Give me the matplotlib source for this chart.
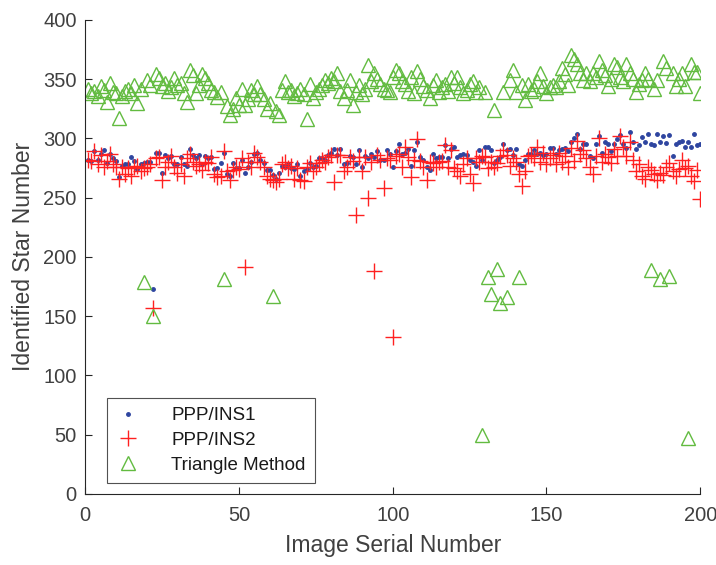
import numpy as np
import matplotlib
matplotlib.use("Agg")
import matplotlib.pyplot as plt

plt.rcParams['font.family'] = ['Liberation Sans', 'DejaVu Sans']

# image index 1..200
img = np.arange(1, 201)

ins1 = [282, 281, 289, 282, 287, 290, 279, 287, 283, 281,
        267, 277, 278, 278, 284, 281, 274, 278, 279, 280,
        280, 173, 288, 288, 271, 286, 283, 285, 278, 278,
        284, 278, 277, 291, 286, 283, 286, 278, 285, 283,
        284, 274, 275, 279, 288, 270, 268, 279, 275, 275,
        282, 271, 276, 280, 287, 288, 282, 279, 273, 273,
        269, 266, 271, 277, 276, 278, 275, 274, 278, 268,
        272, 274, 279, 276, 277, 283, 283, 282, 286, 288,
        291, 286, 291, 278, 279, 285, 284, 278, 290, 276,
        285, 283, 287, 284, 289, 282, 282, 290, 287, 276,
        289, 295, 287, 288, 291, 277, 290, 297, 284, 282,
        276, 273, 287, 283, 284, 284, 294, 283, 291, 293,
        284, 286, 287, 286, 282, 280, 277, 290, 282, 293,
        293, 290, 279, 282, 284, 295, 290, 291, 286, 291,
        278, 277, 282, 287, 287, 290, 287, 288, 286, 287,
        292, 292, 287, 290, 291, 292, 289, 297, 300, 304,
        291, 295, 295, 285, 283, 295, 302, 288, 297, 295,
        289, 295, 299, 303, 295, 292, 305, 297, 291, 294,
        301, 297, 304, 295, 294, 304, 297, 302, 296, 303,
        285, 295, 297, 298, 293, 297, 293, 304, 294, 295]

ins2 = [282, 281, 289, 278, 286, 276, 281, 287, 278, 276,
        266, 276, 270, 275, 268, 276, 277, 272, 275, 276,
        278, 157, 283, 284, 265, 276, 280, 285, 276, 271,
        278, 268, 283, 287, 280, 277, 278, 273, 280, 279,
        284, 270, 267, 268, 289, 272, 265, 273, 276, 274,
        283, 191, 280, 276, 288, 284, 280, 276, 268, 266,
        265, 263, 266, 278, 280, 275, 277, 266, 275, 265,
        264, 276, 279, 272, 276, 279, 282, 280, 284, 286,
        263, 286, 286, 272, 276, 284, 281, 235, 284, 272,
        284, 250, 280, 188, 286, 282, 258, 283, 282, 132,
        285, 287, 276, 293, 284, 267, 282, 299, 281, 276,
        265, 280, 279, 276, 280, 281, 294, 276, 290, 275,
        272, 268, 278, 283, 270, 262, 283, 280, 285, 284,
        275, 280, 276, 279, 285, 290, 286, 277, 283, 280,
        270, 260, 272, 285, 286, 283, 293, 280, 288, 278,
        283, 286, 278, 288, 280, 285, 276, 292, 281, 298,
        287, 290, 283, 276, 270, 285, 300, 280, 287, 284,
        279, 291, 285, 302, 293, 285, 297, 282, 272, 278,
        268, 266, 276, 273, 270, 265, 271, 269, 276, 279,
        272, 268, 274, 282, 275, 277, 268, 264, 273, 249]

tri = [342, 338, 340, 336, 344, 341, 331, 347, 339, 338,
       317, 336, 340, 342, 338, 345, 330, 342, 179, 349,
       345, 150, 354, 351, 344, 347, 340, 343, 351, 345,
       347, 338, 331, 358, 353, 338, 345, 354, 351, 347,
       341, 339, 335, 339, 181, 327, 320, 325, 334, 328,
       342, 328, 333, 341, 337, 344, 337, 333, 325, 330,
       167, 323, 320, 341, 348, 339, 341, 336, 338, 342,
       337, 316, 346, 334, 339, 342, 345, 349, 347, 351,
       348, 355, 340, 334, 341, 349, 328, 339, 345, 337,
       342, 362, 348, 355, 350, 346, 342, 341, 339, 352,
       358, 355, 348, 346, 340, 352, 338, 357, 350, 344,
       341, 334, 345, 349, 339, 343, 346, 340, 352, 347,
       352, 343, 338, 341, 346, 348, 339, 343, 50, 339,
       183, 169, 324, 190, 161, 339, 166, 349, 358, 339,
       183, 345, 332, 346, 340, 342, 348, 355, 344, 338,
       343, 345, 343, 348, 359, 354, 345, 370, 367, 363,
       355, 349, 355, 348, 355, 352, 365, 358, 353, 344,
       350, 363, 360, 352, 348, 363, 355, 350, 339, 346,
       349, 355, 350, 189, 342, 349, 181, 365, 359, 184,
       355, 344, 350, 355, 344, 47, 363, 356, 356, 338]

txt = '#404040'

fig = plt.figure(figsize=(7.16, 5.65), dpi=100)
ax = fig.add_axes([0.119, 0.126, 0.859, 0.839])

ax.plot(img, ins1, '.', color='#2e45a0', markersize=5, label='PPP/INS1')
ax.plot(img, ins2, '+', color='#ff2020', markersize=11, markeredgewidth=1.0,
        label='PPP/INS2')
ax.plot(img, tri, '^', color='#62bb40', markerfacecolor='none',
        markersize=10.5, markeredgewidth=1.0, label='Triangle Method')

ax.set_xlim(0, 200)
ax.set_ylim(0, 400)
ax.set_xticks([0, 50, 100, 150, 200])
ax.set_yticks(np.arange(0, 401, 50))
ax.spines['top'].set_visible(False)
ax.spines['right'].set_visible(False)
for s in ['left', 'bottom']:
    ax.spines[s].set_color('#262626')
    ax.spines[s].set_linewidth(0.8)
ax.tick_params(direction='in', length=5, color='#262626', labelcolor=txt,
               labelsize=14.5)
ax.tick_params(axis='x', pad=9)
ax.tick_params(axis='y', pad=6)

ax.set_xlabel('Image Serial Number', fontsize=16.5, color=txt, labelpad=6)
ax.set_ylabel('Identified Star Number', fontsize=16.5, color=txt, labelpad=6)

leg = ax.legend(loc='lower left', bbox_to_anchor=(0.036, 0.023), fontsize=13.5,
                frameon=True, fancybox=False, edgecolor='#262626',
                borderaxespad=0, borderpad=0.5, labelspacing=0.4,
                handlelength=1.2, handletextpad=1.7)
leg.get_frame().set_linewidth(0.8)
for t in leg.get_texts():
    t.set_color('#1a1a1a')

fig.savefig('out.png', dpi=100)
